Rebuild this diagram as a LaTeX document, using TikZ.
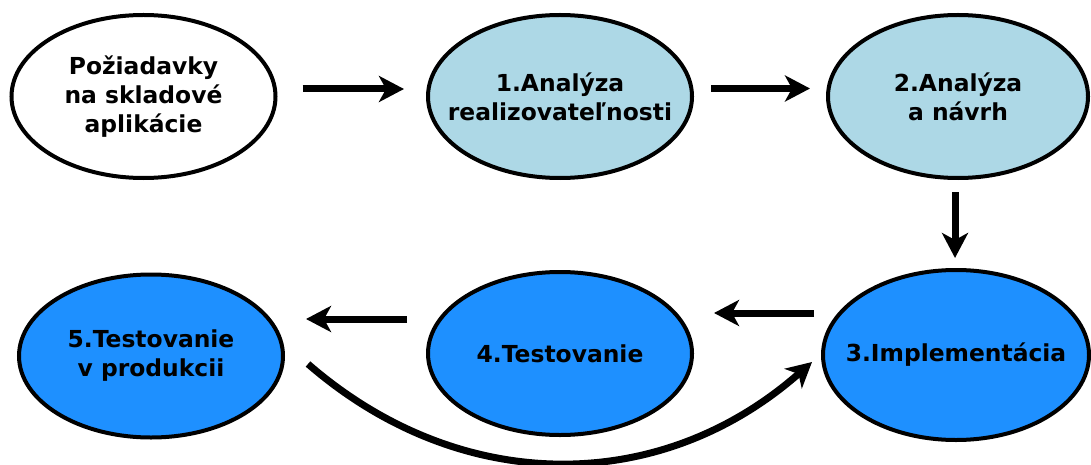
\documentclass[tikz,border=0pt]{standalone}
\usepackage{fontspec}
\setmainfont{DejaVu Sans}
\usetikzlibrary{arrows.meta,shapes.geometric}
\definecolor{SvetloModra}{HTML}{ADD8E6}
\definecolor{Modra}{HTML}{1E90FF}

\begin{document}
\begin{tikzpicture}[x=1pt,y=-1pt,
  faza/.style={ellipse,draw,line width=4pt,inner xsep=-40pt,inner ysep=-20pt,minimum width=264pt,minimum height=163pt,
    align=center,font=\fontsize{23.4}{29}\selectfont\bfseries},
  sipka/.style={-{Stealth[length=25pt,width=26pt,inset=7pt]},line width=7pt}]
\useasboundingbox (0,0) rectangle (1091,465);
% horny rad
\node[faza,fill=white] (poz) at (143.5,96.5) {Požiadavky\\na skladové\\aplikácie};
\node[faza,fill=SvetloModra] (ana1) at (560,96.5) {1.Analýza\\realizovateľnosti};
\node[faza,fill=SvetloModra,minimum width=260pt] (ana2) at (958,96.5) {2.Analýza\\a návrh};
% dolny rad
\node[faza,fill=Modra,minimum width=266pt,minimum height=170pt] (impl) at (956,355) {3.Implementácia};
\node[faza,fill=Modra] (test) at (560,353.5) {4.Testovanie};
\node[faza,fill=Modra] (prod) at (151,356) {5.Testovanie\\v produkcii};
% sipky
\draw[sipka,shorten <=25pt,shorten >=22pt] ([yshift=7.5pt]poz.east) -- ([yshift=7.5pt]ana1.west);
\draw[sipka,shorten <=17pt,shorten >=16pt] ([yshift=8pt]ana1.east) -- ([yshift=8pt]ana2.west);
\draw[sipka,shorten <=12pt,shorten >=10pt] ([xshift=-3pt]ana2.south) -- ([xshift=-1pt]impl.north);
\draw[sipka,shorten <=7pt,shorten >=20pt] ([yshift=42pt]impl.west) -- ([yshift=42pt]impl.west -| test.east);
\draw[sipka,shorten <=19pt,shorten >=21pt] ([yshift=34.5pt]test.west) -- ([yshift=34.5pt]test.west -| prod.east);
\draw[sipka] ([shift={(23pt,-8pt)}]prod.east) .. controls +(152,132) and +(-152,134) .. ([shift={(-9pt,-7pt)}]impl.west);
\end{tikzpicture}
\end{document}
